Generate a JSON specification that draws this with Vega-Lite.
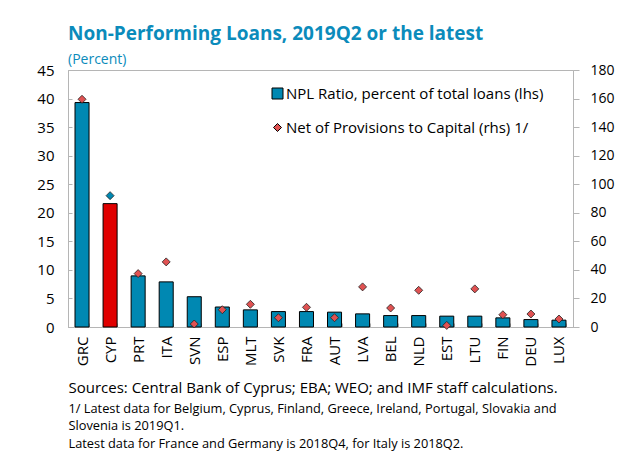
{
  "$schema": "https://vega.github.io/schema/vega-lite/v6.json",
  "width": 505,
  "height": 257,
  "autosize": {"type": "none"},
  "padding": {"left": 68, "top": 70, "right": 44, "bottom": 124},
  "background": "white",
  "title": {
    "text": "Non-Performing Loans, 2019Q2 or the latest",
    "subtitle": "(Percent)",
    "anchor": "start",
    "frame": "group",
    "font": "Open Sans",
    "fontSize": 19,
    "fontWeight": "bold",
    "color": "#0b8bbb",
    "subtitleFont": "Open Sans",
    "subtitleFontSize": 14,
    "subtitleColor": "#0b8bbb",
    "subtitlePadding": 9,
    "offset": -4
  },
  "data": {
    "values": [
      {"country": "GRC", "series": "npl", "value": 39.3},
      {"country": "CYP", "series": "npl", "value": 21.6},
      {"country": "PRT", "series": "npl", "value": 8.95},
      {"country": "ITA", "series": "npl", "value": 7.9},
      {"country": "SVN", "series": "npl", "value": 5.3},
      {"country": "ESP", "series": "npl", "value": 3.5},
      {"country": "MLT", "series": "npl", "value": 3.0},
      {"country": "SVK", "series": "npl", "value": 2.7},
      {"country": "FRA", "series": "npl", "value": 2.7},
      {"country": "AUT", "series": "npl", "value": 2.6},
      {"country": "LVA", "series": "npl", "value": 2.3},
      {"country": "BEL", "series": "npl", "value": 2.0},
      {"country": "NLD", "series": "npl", "value": 2.0},
      {"country": "EST", "series": "npl", "value": 1.9},
      {"country": "LTU", "series": "npl", "value": 1.9},
      {"country": "FIN", "series": "npl", "value": 1.6},
      {"country": "DEU", "series": "npl", "value": 1.3},
      {"country": "LUX", "series": "npl", "value": 1.2},
      {"country": "GRC", "series": "prov", "value": 159.5},
      {"country": "CYP", "series": "prov", "value": 92},
      {"country": "PRT", "series": "prov", "value": 37.4},
      {"country": "ITA", "series": "prov", "value": 45.6},
      {"country": "SVN", "series": "prov", "value": 2.1},
      {"country": "ESP", "series": "prov", "value": 12.1},
      {"country": "MLT", "series": "prov", "value": 15.9},
      {"country": "SVK", "series": "prov", "value": 6.5},
      {"country": "FRA", "series": "prov", "value": 13.8},
      {"country": "AUT", "series": "prov", "value": 6.5},
      {"country": "LVA", "series": "prov", "value": 28.1},
      {"country": "BEL", "series": "prov", "value": 13.3},
      {"country": "NLD", "series": "prov", "value": 25.7},
      {"country": "EST", "series": "prov", "value": 1.1},
      {"country": "LTU", "series": "prov", "value": 26.7},
      {"country": "FIN", "series": "prov", "value": 8.6},
      {"country": "DEU", "series": "prov", "value": 9.1},
      {"country": "LUX", "series": "prov", "value": 5.6}
    ]
  },
  "layer": [
    {
      "transform": [{"filter": "datum.series === 'npl'"}],
      "mark": {"type": "bar", "stroke": "#000", "strokeWidth": 1},
      "encoding": {
        "x": {
          "field": "country", "type": "nominal", "sort": null,
          "scale": {"paddingInner": 0.5, "paddingOuter": 0.25},
          "axis": {
            "orient": "bottom",
            "labelAngle": -90, "labelAlign": "right", "labelBaseline": "middle",
            "labelPadding": 13,
            "ticks": true, "tickBand": "extent", "tickSize": -4,
            "title": "Sources: Central Bank of Cyprus; EBA; WEO; and IMF staff calculations.",
            "titleFont": "Open Sans", "titleFontSize": 15, "titleFontWeight": "normal",
            "titleColor": "#000", "titleAnchor": "start", "titleAlign": "left", "titlePadding": 14
          }
        },
        "y": {
          "field": "value", "type": "quantitative",
          "scale": {"domain": [0, 45]},
          "axis": {"orient": "left", "values": [0,5,10,15,20,25,30,35,40,45], "tickSize": -4, "labelPadding": 18, "title": null}
        },
        "color": {
          "condition": {"test": "datum.country === 'CYP'", "value": "#e00000"},
          "field": "series", "type": "nominal",
          "scale": {"domain": ["npl", "prov"], "range": ["#0088b2", "#e05252"]},
          "legend": {
            "orient": "none", "legendX": 202, "legendY": 16, "title": null, "padding": 0,
            "labelFont": "Open Sans", "labelFontSize": 15, "labelColor": "#000", "labelOffset": 1,
            "labelLimit": 400,
            "rowPadding": 18, "symbolStrokeColor": "#000", "symbolStrokeWidth": 1, "symbolSize": 110,
            "labelExpr": "datum.label === 'npl' ? 'NPL Ratio, percent of total loans (lhs)' : 'Net of Provisions to Capital (rhs) 1/'",
            "encode": {"symbols": {"update": {"size": {"signal": "datum.value === 'npl' ? 121 : 64"}}}}
          }
        }
      }
    },
    {
      "transform": [{"filter": "datum.series === 'prov'"}],
      "mark": {"type": "point", "filled": true, "size": 64, "stroke": "#222", "strokeWidth": 0.8, "opacity": 1},
      "encoding": {
        "x": {
          "field": "country", "type": "nominal", "sort": null,
          "scale": {"paddingInner": 0.5, "paddingOuter": 0.25},
          "axis": {
            "orient": "bottom", "labels": false, "ticks": false, "domain": false,
            "title": ["1/  Latest data for Belgium, Cyprus, Finland, Greece, Ireland, Portugal, Slovakia and", "Slovenia is 2019Q1.", "Latest data for France and Germany is 2018Q4,  for Italy is 2018Q2."],
            "titleFont": "Open Sans", "titleFontSize": 12.8, "titleFontWeight": "normal", "titleLineHeight": 17.5,
            "titleColor": "#000", "titleAnchor": "start", "titleAlign": "left", "titlePadding": 75
          }
        },
        "y": {
          "field": "value", "type": "quantitative",
          "scale": {"domain": [0, 180]},
          "axis": {"orient": "right", "values": [0,20,40,60,80,100,120,140,160,180], "tickSize": 6, "labelPadding": 11, "labelFontSize": 14, "title": null}
        },
        "color": {
          "condition": {"test": "datum.country === 'CYP'", "value": "#0088b2"},
          "field": "series", "type": "nominal",
          "scale": {"domain": ["npl", "prov"], "range": ["#0088b2", "#e05252"]}
        },
        "shape": {
          "field": "series", "type": "nominal",
          "scale": {"domain": ["npl", "prov"], "range": ["square", "diamond"]}
        }
      }
    }
  ],
  "resolve": {"scale": {"y": "independent"}, "axis": {"x": "independent"}},
  "config": {
    "font": "Open Sans",
    "view": {"stroke": "#b5b5b5"},
    "axis": {
      "grid": false,
      "labelFont": "Open Sans", "labelFontSize": 15, "labelColor": "#000",
      "domainColor": "#b5b5b5", "tickColor": "#b5b5b5"
    }
  }
}
